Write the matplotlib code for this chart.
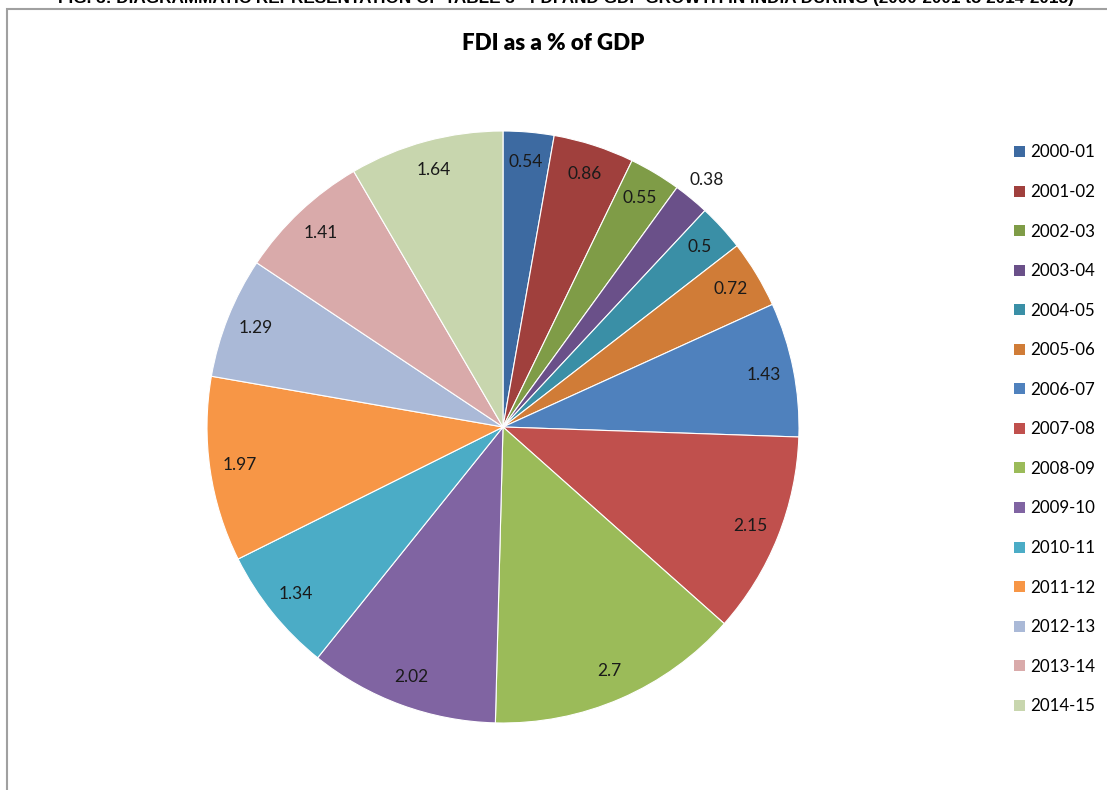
import matplotlib
matplotlib.use("Agg")
import matplotlib.pyplot as plt
from matplotlib.patches import Rectangle, Patch

years = ["2000-01", "2001-02", "2002-03", "2003-04", "2004-05", "2005-06",
         "2006-07", "2007-08", "2008-09", "2009-10", "2010-11", "2011-12",
         "2012-13", "2013-14", "2014-15"]
fdi_pct_gdp = [0.54, 0.86, 0.55, 0.38, 0.5, 0.72, 1.43, 2.15, 2.7, 2.02,
               1.34, 1.97, 1.29, 1.41, 1.64]
value_labels = ["0.54", "0.86", "0.55", "0.38", "0.5", "0.72", "1.43", "2.15",
                "2.7", "2.02", "1.34", "1.97", "1.29", "1.41", "1.64"]
colors = ["#3D6AA1", "#A0403D", "#7F9C47", "#6A5089", "#3A8FA6", "#D07C37",
          "#4F81BD", "#C0504D", "#9BBB59", "#8064A2", "#4BACC6", "#F79646",
          "#AAB9D7", "#D9AAAA", "#C8D6AE"]

plt.rcParams['font.family'] = ['Lato', 'DejaVu Sans']

W, H = 1107, 790
fig = plt.figure(figsize=(W / 100, H / 100), dpi=100)

# chart border
border = Rectangle((7 / W, -0.1), 1.2, 1 - 9 / H + 0.1, transform=fig.transFigure,
                   fill=False, edgecolor="#A0A0A0", linewidth=1.5)
fig.add_artist(border)

# caption at the very top (partly cut off, as in the source image)
fig.text(0.511, 1.0 + 1 / H,
         "FIG. 3: DIAGRAMMATIC REPRESENTATION OF TABLE 3 - FDI AND GDP GROWTH IN INDIA DURING (2000-2001 to 2014-2015)",
         ha="center", va="center", fontsize=12.3, fontweight="bold",
         family=["Liberation Sans", "DejaVu Sans"])

fig.text(553 / W, 1 - 44 / H, "FDI as a % of GDP", ha="center", va="center",
         fontsize=16, fontweight="heavy")

cx, cy, r = 503, 427, 296
ax = fig.add_axes([(cx - r) / W, (H - cy - r) / H, 2 * r / W, 2 * r / H])

it = iter(value_labels)
wedges, texts, autotexts = ax.pie(
    fdi_pct_gdp, colors=colors, startangle=90, counterclock=False,
    autopct=lambda p: next(it), pctdistance=0.9,
    wedgeprops=dict(edgecolor="white", linewidth=0.8),
    textprops=dict(fontsize=12.5, color="#1a1a1a"))
ax.set_xlim(-1, 1)
ax.set_ylim(-1, 1)

# outside label for the small slice
t = autotexts[3]
x, y = t.get_position()
t.set_position((x / 0.9 * 1.08, y / 0.9 * 1.08))

handles = [Patch(facecolor=c, edgecolor="none") for c in colors]
fig.legend(handles, years, loc="upper left", bbox_to_anchor=(1006 / W, 1 - 136 / H),
           frameon=False, fontsize=12.2, handlelength=0.62, handleheight=0.62,
           handletextpad=0.3, labelspacing=1.39, borderpad=0)

fig.savefig("out.png", dpi=100)
